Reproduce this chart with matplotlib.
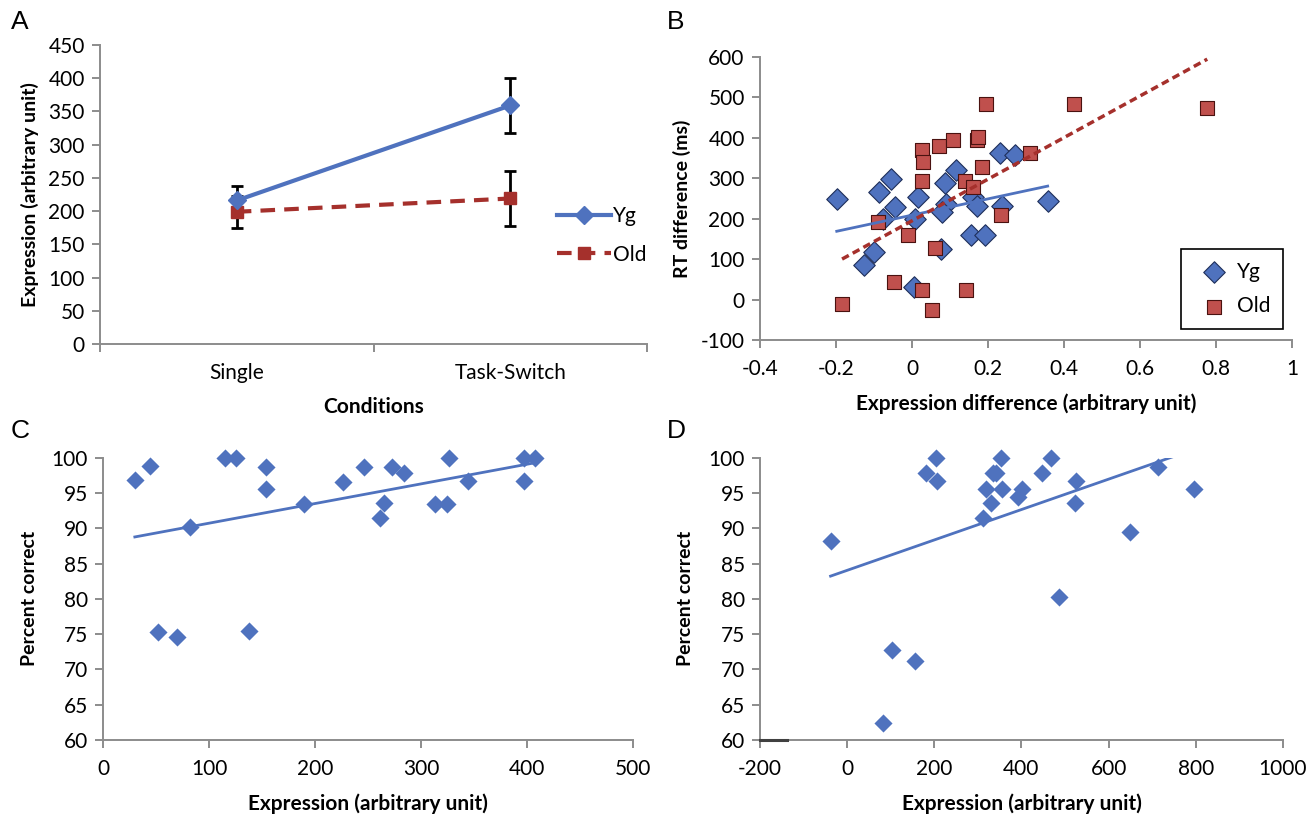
import numpy as np
import matplotlib
matplotlib.use("Agg")
import matplotlib.pyplot as plt

plt.rcParams['font.family'] = ['Lato', 'DejaVu Sans']
plt.rcParams['axes.unicode_minus'] = False

# ---------------- data ----------------
conditions = ['Single', 'Task-Switch']
yg_mean = [216, 359]
yg_err = [22, 41]
old_mean = [199, 219]
old_err = [24, 42]

# panel B: expression difference vs RT difference
b_yg_x = [-0.198, -0.088, -0.055, -0.044, -0.077, -0.099, -0.126, 0.016, 0.008, 0.006,
          0.087, 0.117, 0.089, 0.080, 0.076, 0.161, 0.172, 0.155, 0.191, 0.232,
          0.271, 0.238, 0.357]
b_yg_y = [248, 265, 299, 229, 200, 117, 86, 254, 200, 32,
          288, 321, 237, 217, 126, 254, 231, 159, 159, 363,
          357, 231, 245]
b_old_x = [-0.184, -0.090, -0.047, -0.010, 0.026, 0.029, 0.026, 0.026, 0.053, 0.061,
           0.070, 0.109, 0.139, 0.143, 0.161, 0.172, 0.174, 0.194, 0.185, 0.235,
           0.310, 0.426, 0.777]
b_old_y = [-12, 193, 43, 159, 369, 340, 293, 24, -26, 128,
           380, 394, 293, 24, 279, 394, 402, 483, 328, 210,
           363, 483, 473]

# panel C
c_x = [30, 44, 52, 70, 82, 115, 125, 138, 154, 154, 190, 226, 246, 261, 265, 273,
       284, 313, 325, 326, 344, 397, 397, 408]
c_y = [96.8, 98.8, 75.3, 74.6, 90.2, 100, 100, 75.4, 98.7, 95.6, 93.4, 96.6, 98.7,
       91.4, 93.6, 98.7, 97.8, 93.4, 93.4, 100, 96.7, 100, 96.7, 100]

# panel D
d_x = [-38, 82, 103, 156, 181, 203, 207, 311, 318, 331, 335, 342, 352, 355, 392,
       402, 448, 467, 487, 525, 522, 648, 713, 795]
d_y = [88.2, 62.4, 72.7, 71.2, 97.8, 100, 96.7, 91.5, 95.6, 93.6, 97.8, 97.8, 100,
       95.6, 94.4, 95.6, 97.8, 100, 80.2, 96.7, 93.6, 89.5, 98.7, 95.6]

BLUE = '#4F72BE'
RED = '#C0504D'
DKRED = '#A5302C'
AXCOL = '#8C8C8C'
TICKSIZE = 15
LABSIZE = 15


def style_axes(ax):
    for s in ['top', 'right']:
        ax.spines[s].set_visible(False)
    for s in ['left', 'bottom']:
        ax.spines[s].set_color(AXCOL)
        ax.spines[s].set_linewidth(1.4)
    ax.tick_params(direction='out', length=6, width=1.4, color=AXCOL,
                   labelsize=TICKSIZE, pad=5)
    ax.tick_params(axis='x', pad=8)


def trend(ax, x, y, **kw):
    x = np.asarray(x, float)
    y = np.asarray(y, float)
    k, b = np.polyfit(x, y, 1)
    xs = np.array([x.min(), x.max()])
    ax.plot(xs, k * xs + b, **kw)


fig = plt.figure(figsize=(13.11, 8.14), dpi=100)

# ---------------- A ----------------
axA = fig.add_axes([0.0763, 0.5774, 0.4172, 0.3673])
pos = np.array([1, 2])
axA.errorbar(pos, yg_mean, yerr=yg_err, fmt='none', ecolor='black', elinewidth=2,
             capsize=4.5, capthick=2, zorder=2)
axA.errorbar(pos, old_mean, yerr=old_err, fmt='none', ecolor='black', elinewidth=2,
             capsize=4.5, capthick=2, zorder=2)
axA.plot(pos, yg_mean, color=BLUE, lw=3, marker='D', ms=9, label='Yg', zorder=4)
axA.plot(pos, old_mean, color=DKRED, lw=3, ls=(0, (3.5, 2.2)), marker='s', ms=8,
         mfc=DKRED, mec=DKRED, label='Old', zorder=3)
axA.set_xlim(0.5, 2.5)
axA.set_ylim(0, 450)
axA.set_yticks(range(0, 451, 50))
axA.set_xticks([0.5, 1.5, 2.5])
axA.set_xticklabels([])
axA.set_xticks(pos, minor=True)
axA.set_xticklabels(conditions, minor=True)
style_axes(axA)
axA.tick_params(axis='x', which='minor', length=0, pad=14, labelsize=TICKSIZE)
axA.set_xlabel('Conditions', fontsize=LABSIZE, fontweight='bold', labelpad=10)
axA.set_ylabel('Expression (arbitrary unit)', fontsize=14, fontweight='bold', labelpad=7)
axA.legend(loc='upper left', bbox_to_anchor=(0.82, 0.49), frameon=False, fontsize=TICKSIZE,
           handlelength=2.6, labelspacing=0.9, handletextpad=0.1, borderaxespad=0)

# ---------------- B ----------------
axB = fig.add_axes([0.5797, 0.5823, 0.4058, 0.3477])
axB.scatter(b_yg_x, b_yg_y, marker='D', s=120, color='#4F72BE', edgecolor='#1F2F5A',
            linewidth=0.8, label='Yg', zorder=3)
axB.scatter(b_old_x, b_old_y, marker='s', s=115, color=RED, edgecolor='#4A1210',
            linewidth=0.8, label='Old', zorder=3)
trend(axB, b_yg_x, b_yg_y, color=BLUE, lw=2, zorder=4)
trend(axB, b_old_x, b_old_y, color=DKRED, lw=2.5, ls=(0, (2.2, 1.3)), zorder=4)
axB.set_xlim(-0.4, 1)
axB.set_ylim(-100, 600)
axB.set_xticks(np.arange(-0.4, 1.01, 0.2))
axB.set_xticklabels(['-0.4', '-0.2', '0', '0.2', '0.4', '0.6', '0.8', '1'])
axB.set_yticks(range(-100, 601, 100))
style_axes(axB)
axB.set_xlabel('Expression difference (arbitrary unit)', fontsize=LABSIZE,
               fontweight='bold', labelpad=10)
axB.set_ylabel('RT difference (ms)', fontsize=14, fontweight='bold', labelpad=7)
legB = axB.legend(loc='lower right', bbox_to_anchor=(0.983, 0.039), fontsize=TICKSIZE,
                  fancybox=False, edgecolor='black', framealpha=1, borderpad=0.6,
                  labelspacing=0.7, handletextpad=0.1, borderaxespad=0)
legB.get_frame().set_linewidth(1.2)

# ---------------- C ----------------
axC = fig.add_axes([0.0786, 0.0909, 0.4042, 0.3468])
axC.scatter(c_x, c_y, marker='D', s=85, color=BLUE, linewidth=0, zorder=3, clip_on=False)
trend(axC, c_x, c_y, color=BLUE, lw=2, zorder=4)
axC.set_xlim(0, 500)
axC.set_ylim(60, 100)
axC.set_xticks(range(0, 501, 100))
axC.set_yticks(range(60, 101, 5))
style_axes(axC)
axC.set_xlabel('Expression (arbitrary unit)', fontsize=LABSIZE, fontweight='bold', labelpad=10)
axC.set_ylabel('Percent correct', fontsize=14, fontweight='bold', labelpad=10)

# ---------------- D ----------------
axD = fig.add_axes([0.5797, 0.0909, 0.3989, 0.3468])
axD.scatter(d_x, d_y, marker='D', s=85, color=BLUE, linewidth=0, zorder=3, clip_on=False)
trend(axD, d_x, d_y, color=BLUE, lw=2, zorder=4)
axD.plot([-200, -138], [60, 60], color='#404040', lw=2.2, clip_on=False, zorder=5)
axD.set_xlim(-200, 1000)
axD.set_ylim(60, 100)
axD.set_xticks(range(-200, 1001, 200))
axD.set_yticks(range(60, 101, 5))
style_axes(axD)
axD.set_xlabel('Expression (arbitrary unit)', fontsize=LABSIZE, fontweight='bold', labelpad=10)
axD.set_ylabel('Percent correct', fontsize=14, fontweight='bold', labelpad=10)

# panel letters
for lab, x, y in [('A', 0.008, 0.958), ('B', 0.509, 0.958), ('C', 0.008, 0.456),
                  ('D', 0.509, 0.456)]:
    fig.text(x, y, lab, fontsize=19, family='Liberation Sans', ha='left', va='bottom')

fig.savefig('out.png', dpi=100)
